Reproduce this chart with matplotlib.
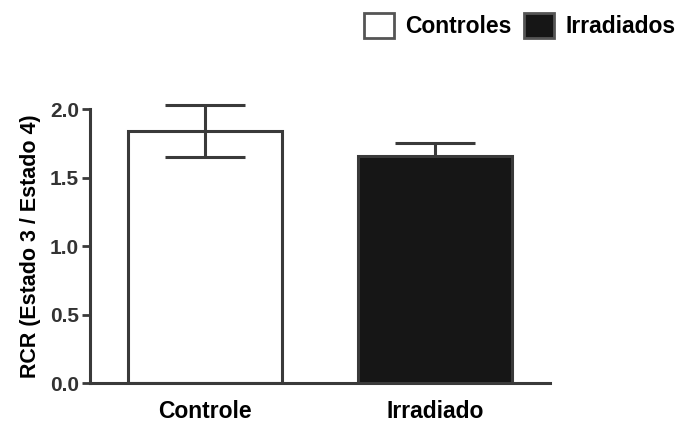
import matplotlib
matplotlib.use('Agg')
import matplotlib.pyplot as plt
from matplotlib.patches import Patch

plt.rcParams['font.family'] = ['Liberation Sans', 'DejaVu Sans']
plt.rcParams['font.weight'] = 'bold'

# mean RCR and SEM per group
groups = ['Controle', 'Irradiado']
rcr_mean = [1.84, 1.66]
rcr_sem = [0.19, 0.09]
legend_labels = ['Controles', 'Irradiados']
fill_colors = ['none', '#161616']
edge = '#3a3a3a'

fig = plt.figure(figsize=(6.78, 4.25), dpi=100)
ax = fig.add_axes([0.1327, 0.0988, 0.678, 0.6447])

x = range(len(groups))
# error bars go behind the bars, so the filled bar hides its lower whisker
ax.errorbar(x, rcr_mean, yerr=rcr_sem, fmt='none', ecolor=edge,
            elinewidth=2.2, capsize=28.5, capthick=2.2, zorder=0.5, clip_on=False)
ax.bar(x, rcr_mean, width=0.67, color=fill_colors, edgecolor=edge, linewidth=2.2,
       zorder=1)

ax.set_xlim(-0.5, 1.5)
ax.set_ylim(0, 2.0)
ax.set_yticks([0.0, 0.5, 1.0, 1.5, 2.0])
ax.set_yticklabels(['0.0', '0.5', '1.0', '1.5', '2.0'])
ax.set_xticks(list(x))
ax.set_xticklabels(groups, fontsize=16.5)
ax.tick_params(axis='x', length=0, pad=12)
ax.tick_params(axis='y', length=6, width=2, color=edge, labelsize=15, pad=2,
               labelcolor='#333333')
for side in ['top', 'right']:
    ax.spines[side].set_visible(False)
for side in ['left', 'bottom']:
    ax.spines[side].set_linewidth(2.2)
    ax.spines[side].set_color(edge)

ax.set_ylabel('RCR (Estado 3 / Estado 4)', fontsize=15.5, fontweight='bold', labelpad=6)

handles = [Patch(facecolor=c, edgecolor='#555555', linewidth=2) for c in fill_colors]
fig.legend(handles, legend_labels, loc='upper right', bbox_to_anchor=(1.007, 0.985),
           ncol=2, frameon=False, fontsize=16.5, handlelength=1.3, handleheight=1.3,
           handletextpad=0.5, columnspacing=0.55, borderaxespad=0.1, borderpad=0.2)

fig.savefig('out.png', dpi=100)
